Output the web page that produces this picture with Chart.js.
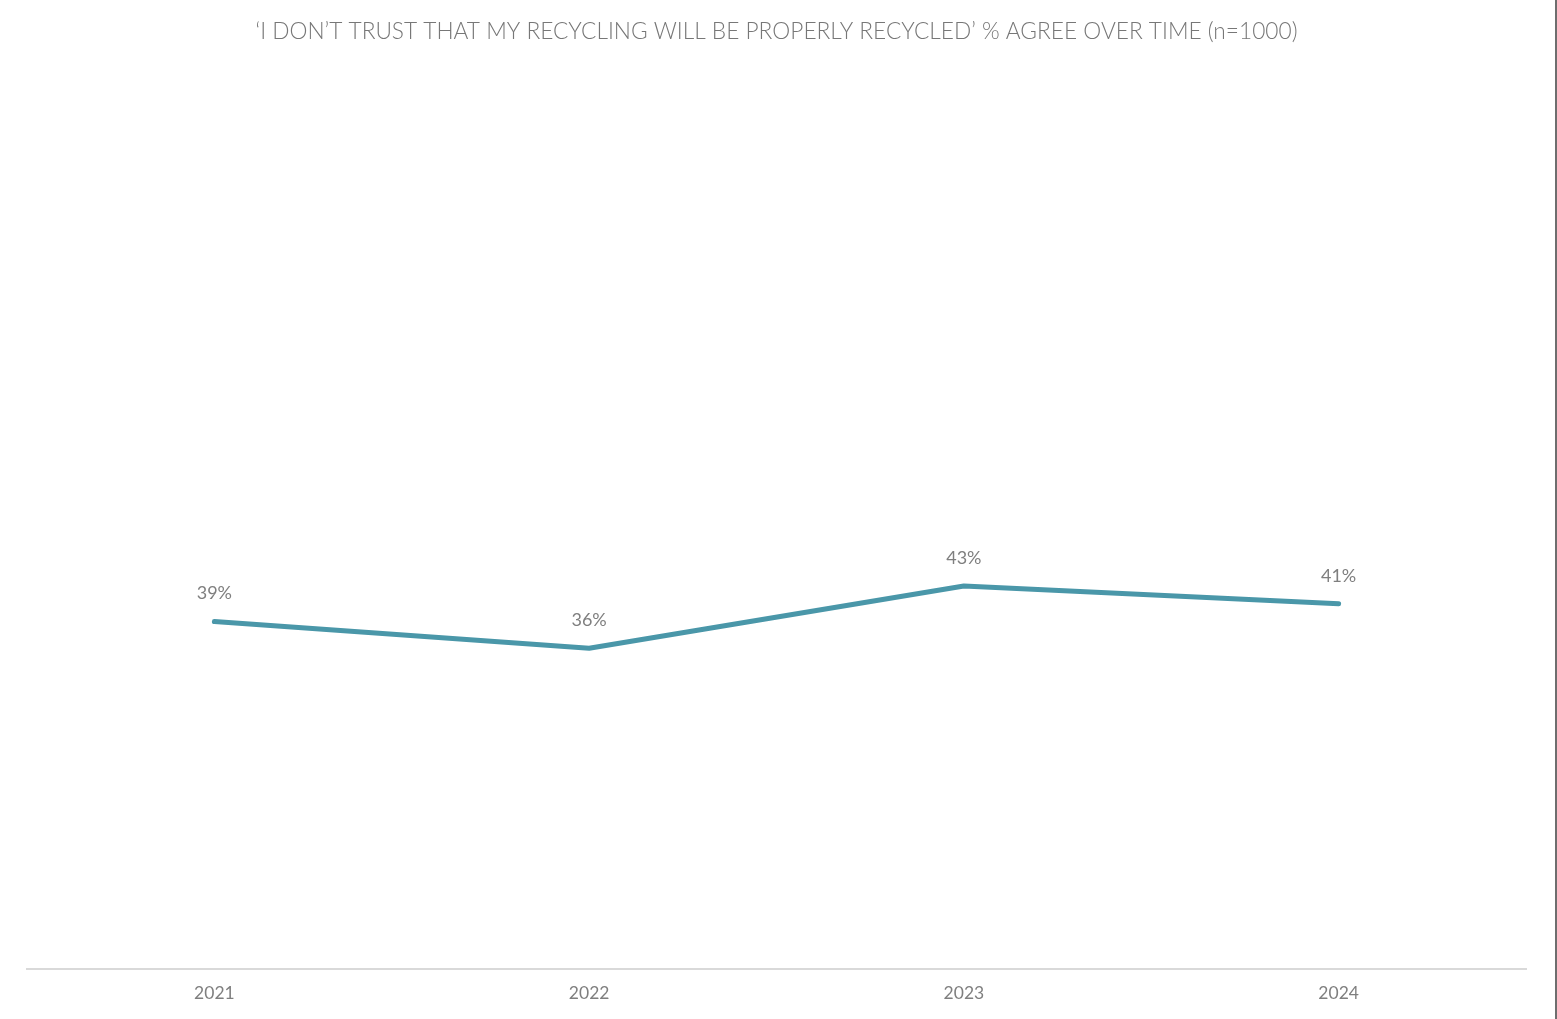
<!DOCTYPE html>
<html>
<head>
<meta charset="utf-8">
<script src="https://cdn.jsdelivr.net/npm/chart.js@4.4.1/dist/chart.umd.min.js"></script>
<style>
  html, body { margin: 0; padding: 0; background: #fff; }
  #wrap { position: relative; width: 1555px; height: 1019px; border-right: 2px solid #6e6e6e; box-sizing: content-box; }
  canvas { display: block; }
</style>
</head>
<body>
<div id="wrap"><canvas id="c" width="1555" height="1019"></canvas></div>
<script>
const titleText = "\u2018I DON\u2019T TRUST THAT MY RECYCLING WILL BE PROPERLY RECYCLED\u2019 % AGREE OVER TIME (n=1000)";
const years = ["2021", "2022", "2023", "2024"];
const agreePct = [39, 36, 43, 41];
const yMin = 0;
const yMax = 100;

const labelPlugin = {
  id: 'pointLabels',
  afterDatasetsDraw(chart) {
    const ctx = chart.ctx;
    const meta = chart.getDatasetMeta(0);
    ctx.save();
    ctx.font = '18px "Lato", "Open Sans", sans-serif';
    ctx.fillStyle = '#7f7f7f';
    ctx.textAlign = 'center';
    ctx.textBaseline = 'middle';
    meta.data.forEach((pt, i) => {
      ctx.fillText(agreePct[i] + '%', pt.x, pt.y - 28);
    });
    ctx.restore();
  }
};

new Chart(document.getElementById('c'), {
  type: 'line',
  data: {
    labels: years,
    datasets: [{
      data: agreePct,
      borderColor: '#4a97a9',
      borderWidth: 5,
      pointRadius: 0,
      tension: 0,
      borderCapStyle: 'round',
      borderJoinStyle: 'round'
    }]
  },
  options: {
    responsive: false,
    animation: false,
    layout: { padding: { left: 27, right: 29, top: 0, bottom: 1 } },
    plugins: {
      legend: { display: false },
      tooltip: { enabled: false },
      title: {
        display: true,
        text: titleText,
        color: '#777777',
        font: { family: '"Lato", "Open Sans", sans-serif', size: 22.7, weight: '300' },
        padding: { top: 18, bottom: 33 }
      }
    },
    scales: {
      x: {
        offset: true,
        grid: { display: false, drawTicks: false },
        border: { display: true, color: '#d9d9d9', width: 2 },
        ticks: { color: '#7f7f7f', font: { family: '"Lato", "Open Sans", sans-serif', size: 17.5 }, padding: 14 }
      },
      y: {
        display: false,
        min: yMin,
        max: yMax
      }
    }
  },
  plugins: [labelPlugin]
});
</script>
</body>
</html>
